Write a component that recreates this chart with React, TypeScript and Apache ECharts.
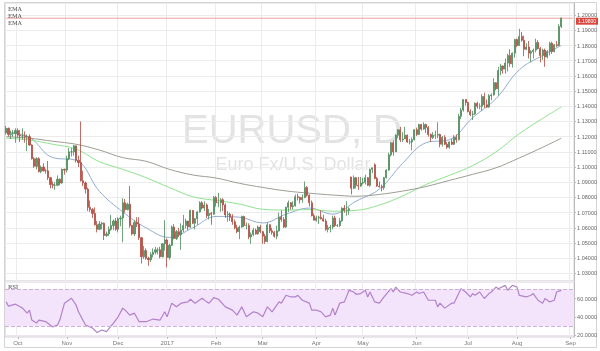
import React, { useEffect, useRef } from 'react';
import * as echarts from 'echarts';

// ---- categories (trading days) ----
const firstDay = [2016, 8, 26]; // 2016-09-26
const lastDay = [2017, 8, 4]; // 2017-09-04 (axis runs a little past the data)
const holidays = ['2016-12-26', '2017-01-02'];
const monthTickLabels = ['Oct', 'Nov', 'Dec', '2017', 'Feb', 'Mar', 'Apr', 'May', 'Jun', 'Jul', 'Aug', 'Sep'];

// ---- EUR/USD daily candles: [open, close, low, high] ----
const ohlcSep2016 = [
  [1.1225, 1.1255, 1.1215, 1.1270], [1.1255, 1.1215, 1.1200, 1.1260], [1.1215, 1.1220, 1.1185, 1.1240],
  [1.1220, 1.1220, 1.1200, 1.1245], [1.1220, 1.1240, 1.1160, 1.1255],
];
const ohlcOct2016 = [
  [1.1240, 1.1210, 1.1195, 1.1255], [1.1210, 1.1205, 1.1165, 1.1245], [1.1205, 1.1205, 1.1180, 1.1255],
  [1.1205, 1.1200, 1.1160, 1.1235], [1.1200, 1.1200, 1.1105, 1.1215], [1.1200, 1.1145, 1.1140, 1.1215],
  [1.1145, 1.1055, 1.1050, 1.1150], [1.1055, 1.1005, 1.0995, 1.1065], [1.1005, 1.1055, 1.0985, 1.1065],
  [1.1055, 1.0970, 1.0965, 1.1065], [1.0970, 1.1000, 1.0960, 1.1010], [1.1000, 1.0975, 1.0970, 1.1025],
  [1.0975, 1.0975, 1.0955, 1.0990], [1.0975, 1.0930, 1.0915, 1.1040], [1.0930, 1.0885, 1.0860, 1.0935],
  [1.0885, 1.0880, 1.0860, 1.0905], [1.0880, 1.0880, 1.0850, 1.0900], [1.0880, 1.0920, 1.0875, 1.0945],
  [1.0920, 1.0895, 1.0880, 1.0925], [1.0895, 1.0985, 1.0890, 1.0990], [1.0985, 1.0980, 1.0950, 1.0990],
];
const ohlcNov2016 = [
  [1.0980, 1.1055, 1.0965, 1.1075], [1.1055, 1.1100, 1.1045, 1.1125], [1.1100, 1.1100, 1.1070, 1.1125],
  [1.1100, 1.1140, 1.1075, 1.1145], [1.1140, 1.1045, 1.1030, 1.1080], [1.1045, 1.1030, 1.1000, 1.1075],
  [1.1030, 1.0910, 1.0905, 1.1300], [1.0910, 1.0895, 1.0875, 1.0975], [1.0895, 1.0855, 1.0825, 1.0905],
  [1.0855, 1.0735, 1.0710, 1.0865], [1.0735, 1.0720, 1.0705, 1.0780], [1.0720, 1.0695, 1.0665, 1.0730],
  [1.0695, 1.0620, 1.0615, 1.0735], [1.0620, 1.0590, 1.0570, 1.0645], [1.0590, 1.0625, 1.0585, 1.0645],
  [1.0625, 1.0630, 1.0590, 1.0640], [1.0630, 1.0550, 1.0520, 1.0635], [1.0550, 1.0560, 1.0540, 1.0575],
  [1.0560, 1.0590, 1.0545, 1.0610], [1.0590, 1.0615, 1.0580, 1.0685], [1.0615, 1.0645, 1.0585, 1.0655],
  [1.0645, 1.0590, 1.0580, 1.0665],
];
const ohlcDec2016 = [
  [1.0590, 1.0660, 1.0570, 1.0670], [1.0660, 1.0665, 1.0610, 1.0680], [1.0665, 1.0765, 1.0505, 1.0795],
  [1.0765, 1.0720, 1.0700, 1.0790], [1.0720, 1.0755, 1.0715, 1.0765], [1.0755, 1.0615, 1.0600, 1.0875],
  [1.0615, 1.0560, 1.0550, 1.0620], [1.0560, 1.0635, 1.0545, 1.0650], [1.0635, 1.0625, 1.0605, 1.0670],
  [1.0625, 1.0535, 1.0520, 1.0670], [1.0535, 1.0410, 1.0365, 1.0540], [1.0410, 1.0450, 1.0395, 1.0480],
  [1.0450, 1.0400, 1.0390, 1.0465], [1.0400, 1.0390, 1.0350, 1.0410], [1.0390, 1.0425, 1.0375, 1.0440],
  [1.0425, 1.0440, 1.0405, 1.0465], [1.0440, 1.0455, 1.0425, 1.0475], [1.0455, 1.0455, 1.0425, 1.0470],
  [1.0455, 1.0410, 1.0400, 1.0475], [1.0410, 1.0495, 1.0405, 1.0500], [1.0495, 1.0520, 1.0450, 1.0650],
];
const ohlcJan2017 = [
  [1.0520, 1.0405, 1.0340, 1.0530], [1.0405, 1.0485, 1.0390, 1.0495], [1.0485, 1.0605, 1.0480, 1.0615],
  [1.0605, 1.0530, 1.0525, 1.0625], [1.0530, 1.0575, 1.0520, 1.0585], [1.0575, 1.0555, 1.0540, 1.0600],
  [1.0555, 1.0585, 1.0455, 1.0630], [1.0585, 1.0615, 1.0570, 1.0685], [1.0615, 1.0645, 1.0595, 1.0660],
  [1.0645, 1.0605, 1.0585, 1.0625], [1.0605, 1.0715, 1.0600, 1.0720], [1.0715, 1.0630, 1.0625, 1.0715],
  [1.0630, 1.0660, 1.0590, 1.0665], [1.0660, 1.0705, 1.0620, 1.0710], [1.0705, 1.0765, 1.0700, 1.0775],
  [1.0765, 1.0730, 1.0720, 1.0775], [1.0730, 1.0750, 1.0710, 1.0775], [1.0750, 1.0680, 1.0665, 1.0760],
  [1.0680, 1.0695, 1.0655, 1.0725], [1.0695, 1.0690, 1.0620, 1.0705], [1.0690, 1.0800, 1.0685, 1.0810],
];
const ohlcFeb2017 = [
  [1.0800, 1.0765, 1.0740, 1.0810], [1.0765, 1.0765, 1.0735, 1.0830], [1.0765, 1.0785, 1.0705, 1.0795],
  [1.0785, 1.0750, 1.0710, 1.0795], [1.0750, 1.0685, 1.0665, 1.0760], [1.0685, 1.0690, 1.0640, 1.0710],
  [1.0690, 1.0670, 1.0645, 1.0700], [1.0670, 1.0640, 1.0620, 1.0690], [1.0640, 1.0600, 1.0590, 1.0655],
  [1.0600, 1.0575, 1.0565, 1.0620], [1.0575, 1.0605, 1.0525, 1.0615], [1.0605, 1.0675, 1.0600, 1.0680],
  [1.0675, 1.0615, 1.0605, 1.0680], [1.0615, 1.0615, 1.0590, 1.0635], [1.0615, 1.0540, 1.0525, 1.0630],
  [1.0540, 1.0555, 1.0495, 1.0570], [1.0555, 1.0585, 1.0545, 1.0600], [1.0585, 1.0560, 1.0555, 1.0595],
  [1.0560, 1.0605, 1.0555, 1.0615], [1.0605, 1.0575, 1.0565, 1.0620],
];
const ohlcMar2017 = [
  [1.0575, 1.0545, 1.0495, 1.0580], [1.0545, 1.0510, 1.0495, 1.0560], [1.0510, 1.0620, 1.0505, 1.0635],
  [1.0620, 1.0580, 1.0565, 1.0625], [1.0580, 1.0570, 1.0555, 1.0600], [1.0570, 1.0545, 1.0535, 1.0580],
  [1.0545, 1.0580, 1.0525, 1.0615], [1.0580, 1.0670, 1.0575, 1.0700], [1.0670, 1.0655, 1.0640, 1.0715],
  [1.0655, 1.0605, 1.0600, 1.0670], [1.0605, 1.0735, 1.0600, 1.0740], [1.0735, 1.0765, 1.0705, 1.0780],
  [1.0765, 1.0740, 1.0720, 1.0770], [1.0740, 1.0745, 1.0720, 1.0775], [1.0745, 1.0805, 1.0740, 1.0820],
  [1.0805, 1.0800, 1.0780, 1.0825], [1.0800, 1.0785, 1.0760, 1.0805], [1.0785, 1.0800, 1.0765, 1.0820],
  [1.0800, 1.0865, 1.0795, 1.0905], [1.0865, 1.0815, 1.0805, 1.0875], [1.0815, 1.0765, 1.0740, 1.0820],
  [1.0765, 1.0680, 1.0675, 1.0780], [1.0680, 1.0650, 1.0650, 1.0695],
];
const ohlcApr2017 = [
  [1.0650, 1.0665, 1.0640, 1.0680], [1.0665, 1.0670, 1.0625, 1.0680], [1.0670, 1.0660, 1.0655, 1.0715],
  [1.0660, 1.0645, 1.0640, 1.0685], [1.0645, 1.0590, 1.0580, 1.0660], [1.0590, 1.0600, 1.0570, 1.0620],
  [1.0600, 1.0605, 1.0570, 1.0620], [1.0605, 1.0665, 1.0590, 1.0680], [1.0665, 1.0615, 1.0605, 1.0680],
  [1.0615, 1.0615, 1.0605, 1.0625], [1.0615, 1.0645, 1.0605, 1.0665], [1.0645, 1.0730, 1.0640, 1.0735],
  [1.0730, 1.0715, 1.0700, 1.0750], [1.0715, 1.0715, 1.0680, 1.0775], [1.0715, 1.0725, 1.0685, 1.0735],
  [1.0935, 1.0860, 1.0820, 1.0935], [1.0860, 1.0930, 1.0855, 1.0945], [1.0930, 1.0880, 1.0860, 1.0935],
  [1.0880, 1.0875, 1.0850, 1.0935], [1.0875, 1.0895, 1.0870, 1.0935],
];
const ohlcMay2017 = [
  [1.0895, 1.0900, 1.0885, 1.0930], [1.0900, 1.0930, 1.0885, 1.0950], [1.0930, 1.0880, 1.0875, 1.0935],
  [1.0880, 1.0985, 1.0870, 1.0990], [1.0985, 1.0995, 1.0960, 1.0995], [1.1015, 1.0925, 1.0920, 1.1025],
  [1.0925, 1.0875, 1.0870, 1.0935], [1.0875, 1.0870, 1.0865, 1.0905], [1.0870, 1.0865, 1.0840, 1.0885],
  [1.0865, 1.0930, 1.0850, 1.0935], [1.0930, 1.0980, 1.0925, 1.0985], [1.0980, 1.1080, 1.0975, 1.1095],
  [1.1080, 1.1160, 1.1070, 1.1165], [1.1160, 1.1100, 1.1075, 1.1175], [1.1100, 1.1210, 1.1100, 1.1215],
  [1.1210, 1.1245, 1.1190, 1.1250], [1.1245, 1.1180, 1.1165, 1.1265], [1.1180, 1.1185, 1.1165, 1.1230],
  [1.1185, 1.1210, 1.1185, 1.1265], [1.1210, 1.1165, 1.1160, 1.1215], [1.1165, 1.1165, 1.1150, 1.1185],
  [1.1165, 1.1180, 1.1110, 1.1195], [1.1180, 1.1245, 1.1175, 1.1250],
];
const ohlcJun2017 = [
  [1.1245, 1.1215, 1.1205, 1.1260], [1.1215, 1.1280, 1.1210, 1.1285], [1.1280, 1.1250, 1.1240, 1.1285],
  [1.1250, 1.1280, 1.1245, 1.1295], [1.1280, 1.1260, 1.1225, 1.1285], [1.1260, 1.1215, 1.1200, 1.1270],
  [1.1215, 1.1195, 1.1165, 1.1220], [1.1195, 1.1210, 1.1185, 1.1230], [1.1210, 1.1210, 1.1185, 1.1240],
  [1.1210, 1.1215, 1.1190, 1.1295], [1.1215, 1.1150, 1.1130, 1.1220], [1.1150, 1.1195, 1.1135, 1.1205],
  [1.1195, 1.1150, 1.1145, 1.1210], [1.1150, 1.1130, 1.1120, 1.1165], [1.1130, 1.1165, 1.1120, 1.1170],
  [1.1165, 1.1150, 1.1145, 1.1185], [1.1150, 1.1195, 1.1145, 1.1210], [1.1195, 1.1180, 1.1160, 1.1215],
  [1.1180, 1.1335, 1.1175, 1.1350], [1.1335, 1.1375, 1.1315, 1.1390], [1.1375, 1.1445, 1.1365, 1.1445],
  [1.1445, 1.1425, 1.1405, 1.1445],
];
const ohlcJul2017 = [
  [1.1425, 1.1365, 1.1360, 1.1430], [1.1365, 1.1345, 1.1335, 1.1380], [1.1345, 1.1350, 1.1310, 1.1370],
  [1.1350, 1.1420, 1.1345, 1.1425], [1.1420, 1.1400, 1.1385, 1.1430], [1.1400, 1.1400, 1.1380, 1.1420],
  [1.1400, 1.1465, 1.1370, 1.1480], [1.1465, 1.1410, 1.1390, 1.1490], [1.1410, 1.1395, 1.1390, 1.1445],
  [1.1395, 1.1470, 1.1390, 1.1480], [1.1470, 1.1475, 1.1440, 1.1485], [1.1475, 1.1555, 1.1470, 1.1585],
  [1.1555, 1.1515, 1.1505, 1.1560], [1.1515, 1.1635, 1.1470, 1.1660], [1.1635, 1.1665, 1.1605, 1.1680],
  [1.1665, 1.1645, 1.1615, 1.1670], [1.1645, 1.1685, 1.1615, 1.1715], [1.1685, 1.1735, 1.1630, 1.1745],
  [1.1735, 1.1680, 1.1660, 1.1775], [1.1680, 1.1750, 1.1655, 1.1755], [1.1750, 1.1840, 1.1720, 1.1845],
];
const ohlcAug2017 = [
  [1.1840, 1.1800, 1.1790, 1.1845], [1.1800, 1.1860, 1.1800, 1.1910], [1.1860, 1.1835, 1.1825, 1.1890],
  [1.1835, 1.1775, 1.1730, 1.1865], [1.1775, 1.1790, 1.1770, 1.1815], [1.1790, 1.1750, 1.1715, 1.1830],
  [1.1750, 1.1760, 1.1690, 1.1770], [1.1760, 1.1770, 1.1715, 1.1780], [1.1770, 1.1820, 1.1755, 1.1845],
  [1.1820, 1.1780, 1.1775, 1.1835], [1.1780, 1.1735, 1.1690, 1.1790], [1.1735, 1.1770, 1.1705, 1.1780],
  [1.1770, 1.1725, 1.1660, 1.1780], [1.1725, 1.1760, 1.1715, 1.1770], [1.1760, 1.1815, 1.1735, 1.1825],
  [1.1815, 1.1760, 1.1745, 1.1825], [1.1760, 1.1805, 1.1755, 1.1810], [1.1805, 1.1800, 1.1790, 1.1830],
  [1.1800, 1.1925, 1.1795, 1.1940], [1.1925, 1.1980, 1.1915, 1.1985],
];

// ---- moving averages (trading-day index, value) ----
const emaIdx = [0, 10, 20, 30, 40, 50, 60, 70, 80, 90, 100, 110, 120, 130, 140, 150, 160, 170, 180, 190, 200, 210, 220, 230, 238];
const emaFast = [1.1232, 1.1195, 1.1062, 1.1045, 1.0840, 1.0705, 1.0600, 1.0537, 1.0600, 1.0675, 1.0670, 1.0632,
  1.0690, 1.0730, 1.0690, 1.0775, 1.0855, 1.1025, 1.1160, 1.1180, 1.1325, 1.1450, 1.1640, 1.1735, 1.1800];
const emaMid = [1.1190, 1.1178, 1.1150, 1.1118, 1.1035, 1.0985, 1.0930, 1.0865, 1.0805, 1.0780, 1.0757, 1.0722,
  1.0717, 1.0720, 1.0710, 1.0715, 1.0750, 1.0810, 1.0885, 1.0945, 1.1010, 1.1100, 1.1220, 1.1320, 1.1395];
const emaSlow = [1.1200, 1.1190, 1.1170, 1.1150, 1.1112, 1.1062, 1.1038, 1.0985, 1.0948, 1.0928, 1.0893, 1.0866,
  1.0843, 1.0828, 1.0816, 1.0808, 1.0820, 1.0842, 1.0872, 1.0912, 1.0952, 1.0995, 1.1060, 1.1130, 1.1190];

// ---- RSI (trading-day index, value) ----
const rsiIdx = [0, 1, 4, 6, 7, 9, 10, 11, 13, 14, 17, 20, 22, 23, 25, 28, 30, 31, 34, 37, 39, 41, 43, 46, 48, 50,
  51, 53, 55, 57, 60, 63, 66, 68, 69, 71, 73, 75, 78, 79, 81, 84, 86, 87, 89, 91, 94, 97, 99, 101, 103, 106, 108,
  110, 112, 114, 117, 118, 120, 122, 124, 125, 127, 130, 131, 133, 135, 137, 139, 140, 141, 143, 145, 147, 149,
  150, 152, 154, 155, 156, 158, 160, 162, 165, 166, 167, 169, 172, 174, 176, 177, 179, 181, 184, 185, 186, 188,
  191, 192, 194, 195, 197, 199, 200, 201, 203, 205, 207, 208, 210, 211, 214, 215, 217, 219, 220, 223, 225, 226,
  228, 230, 231, 233, 235, 236, 238];
const rsiVal = [56.3, 51.6, 53.8, 50.9, 49.5, 44.0, 47.3, 36.5, 33.2, 36.5, 34.7, 29.0, 31.0, 36.5, 54.9, 60.3,
  52.7, 45.5, 31.1, 27.8, 22.8, 25.7, 23.9, 33.2, 40.0, 49.5, 47.3, 41.9, 44.0, 34.7, 34.7, 37.6, 36.5, 45.5,
  40.0, 54.9, 50.9, 54.9, 56.3, 59.2, 54.9, 60.3, 56.3, 54.9, 61.0, 59.2, 50.9, 47.3, 41.9, 50.9, 40.0, 45.5, 44.0,
  40.0, 50.9, 45.5, 56.3, 54.9, 63.5, 61.7, 61.7, 63.5, 58.1, 54.9, 47.3, 47.3, 45.5, 40.0, 41.9, 49.5, 41.9, 54.9,
  56.3, 68.9, 67.1, 64.6, 65.4, 68.9, 61.7, 67.1, 56.3, 54.9, 61.7, 70.7, 67.1, 72.5, 67.1, 65.4, 63.5, 67.1, 65.4,
  67.1, 58.1, 58.1, 50.9, 54.9, 49.5, 54.9, 54.9, 65.4, 70.7, 67.1, 61.7, 65.4, 63.5, 67.1, 60.0, 65.4, 67.1, 72.5,
  70.7, 74.3, 68.9, 74.3, 72.5, 63.5, 61.7, 63.5, 65.4, 58.1, 54.9, 60.0, 56.3, 58.1, 67.1, 68.9];

function buildDates(): string[] {
  const out: string[] = [];
  const d = new Date(Date.UTC(firstDay[0], firstDay[1], firstDay[2]));
  const end = Date.UTC(lastDay[0], lastDay[1], lastDay[2]);
  while (d.getTime() <= end) {
    const wd = d.getUTCDay();
    const s = d.toISOString().slice(0, 10);
    if (wd !== 0 && wd !== 6 && !holidays.includes(s)) out.push(s);
    d.setUTCDate(d.getUTCDate() + 1);
  }
  return out;
}

export default function App() {
  const ref = useRef<HTMLDivElement>(null);
  useEffect(() => {
    if (!ref.current) return;
    const chart = echarts.init(ref.current, undefined, { renderer: 'svg' });
    const dates = buildDates();
    const labelAt: Record<number, string> = {};
    let k = 0;
    for (let i = 1; i < dates.length; i++) {
      if (dates[i].slice(5, 7) !== dates[i - 1].slice(5, 7)) {
        labelAt[i] = monthTickLabels[k++] ?? '';
      }
    }
    const isMonthStart = (idx: number) => labelAt[idx] !== undefined;
    const ohlc = [
      ...ohlcSep2016, ...ohlcOct2016, ...ohlcNov2016, ...ohlcDec2016, ...ohlcJan2017, ...ohlcFeb2017,
      ...ohlcMar2017, ...ohlcApr2017, ...ohlcMay2017, ...ohlcJun2017, ...ohlcJul2017, ...ohlcAug2017,
    ];
    const lastClose = ohlc[ohlc.length - 1][1];
    const font = 'Liberation Sans, Arial, sans-serif';
    const gridLine = '#ececec';

    const xBase = (gridIndex: number, showLabels: boolean) => ({
      type: 'category',
      gridIndex,
      data: dates,
      boundaryGap: true,
      axisLine: { show: false },
      axisTick: { show: showLabels, interval: (i: number) => isMonthStart(i), alignWithLabel: true, length: 2, lineStyle: { color: '#bbb' } },
      axisLabel: {
        show: showLabels,
        interval: (i: number) => isMonthStart(i),
        formatter: (_v: string, i: number) => labelAt[i] ?? '',
        fontSize: 6,
        color: '#777',
        margin: 3,
      },
      splitLine: { show: true, interval: (i: number) => isMonthStart(i), lineStyle: { color: gridLine, width: 1 } },
    });

    const emaSeries = (name: string, vals: number[], color: string) => ({
      name,
      type: 'line',
      xAxisIndex: 0,
      yAxisIndex: 0,
      data: emaIdx.map((i, j) => [i, vals[j]]),
      showSymbol: false,
      smooth: 0.4,
      lineStyle: { color, width: 1 },
      z: 3,
      silent: true,
    });

    chart.setOption({
      animation: false,
      textStyle: { fontFamily: font },
      grid: [
        { left: 5, right: 23, top: 3, height: 278, show: true, borderColor: '#c8c8c8', borderWidth: 1 },
        { left: 5, right: 23, top: 282, height: 55, show: true, borderColor: '#c8c8c8', borderWidth: 1 },
      ],
      xAxis: [xBase(0, false), xBase(1, true)],
      yAxis: [
        {
          type: 'value',
          gridIndex: 0,
          position: 'right',
          min: 1.025,
          max: 1.208,
          splitNumber: 18,
          minInterval: 0.01,
          maxInterval: 0.01,
          axisLine: { show: true, lineStyle: { color: '#bbb' } },
          axisTick: { show: true, length: 2, lineStyle: { color: '#bbb' } },
          axisLabel: {
            formatter: (v: number) => v.toFixed(5),
            fontSize: 5.5,
            lineHeight: 5,
            color: '#666',
            margin: 3,
            showMinLabel: false,
            showMaxLabel: false,
          },
          splitLine: { show: true, lineStyle: { color: gridLine } },
        },
        {
          type: 'value',
          gridIndex: 1,
          position: 'right',
          min: 18,
          max: 78,
          splitNumber: 3,
          minInterval: 20,
          maxInterval: 20,
          axisLine: { show: true, lineStyle: { color: '#bbb' } },
          axisTick: { show: true, length: 2, lineStyle: { color: '#bbb' } },
          axisLabel: {
            formatter: (v: number) => v.toFixed(4),
            fontSize: 5.5,
            color: '#666',
            margin: 3,
            showMinLabel: false,
            showMaxLabel: false,
          },
          splitLine: { show: true, lineStyle: { color: '#eee4f2' } },
        },
      ],
      graphic: [
        { type: 'rect', silent: true, z: 0, shape: { x: 4.5, y: 2.5, width: 592, height: 345 }, style: { fill: 'none', stroke: '#d4d4d4', lineWidth: 1 } },
        { type: 'text', silent: true, z: 0, x: 292, y: 129, style: { text: 'EURUSD, D', fontSize: 40, fontFamily: font, fill: '#e3e3e3', align: 'center', verticalAlign: 'middle' } },
        { type: 'text', silent: true, z: 0, x: 293, y: 164, style: { text: 'Euro Fx/U.S. Dollar', fontSize: 18, fontFamily: font, fill: '#e3e3e3', align: 'center', verticalAlign: 'middle' } },
        { type: 'text', silent: true, z: 10, x: 8, y: 9, style: { text: 'EMA', fontSize: 5.5, fontFamily: 'DejaVu Serif, serif', fill: '#444', verticalAlign: 'middle' } },
        { type: 'text', silent: true, z: 10, x: 8, y: 16, style: { text: 'EMA', fontSize: 5.5, fontFamily: 'DejaVu Serif, serif', fill: '#444', verticalAlign: 'middle' } },
        { type: 'text', silent: true, z: 10, x: 8, y: 23, style: { text: 'EMA', fontSize: 5.5, fontFamily: 'DejaVu Serif, serif', fill: '#444', verticalAlign: 'middle' } },
        { type: 'text', silent: true, z: 10, x: 8, y: 287, style: { text: 'RSI', fontSize: 5.5, fontFamily: 'DejaVu Serif, serif', fill: '#444', verticalAlign: 'middle' } },
      ],
      series: [
        {
          name: 'EURUSD',
          type: 'candlestick',
          xAxisIndex: 0,
          yAxisIndex: 0,
          data: ohlc,
          barWidth: '70%',
          itemStyle: {
            color: '#5c9a6b',
            color0: '#c4544a',
            borderColor: '#4d8a5c',
            borderColor0: '#b04a41',
            borderWidth: 0.8,
          },
          z: 4,
        },
        emaSeries('EMA fast', emaFast, '#93acd0'),
        emaSeries('EMA mid', emaMid, '#8fe28f'),
        emaSeries('EMA slow', emaSlow, '#9d9d94'),
        {
          name: 'Last price',
          type: 'line',
          xAxisIndex: 0,
          yAxisIndex: 0,
          data: [[0, lastClose], [dates.length - 1, lastClose]],
          showSymbol: false,
          silent: true,
          z: 2,
          lineStyle: { color: '#f0a29c', width: 1 },
          endLabel: {
            show: true,
            formatter: () => lastClose.toFixed(5),
            backgroundColor: '#d8483e',
            color: '#fff',
            fontSize: 5,
            lineHeight: 6,
            padding: [0.5, 2],
            distance: 3,
            offset: [0, 3],
          },
        },
        {
          name: 'RSI',
          type: 'line',
          xAxisIndex: 1,
          yAxisIndex: 1,
          data: rsiIdx.map((i, j) => [i, rsiVal[j]]),
          showSymbol: false,
          lineStyle: { color: '#b182ca', width: 1.2 },
          z: 3,
          silent: true,
          markArea: {
            silent: true,
            itemStyle: { color: '#f3e4fb' },
            data: [[{ yAxis: 30 }, { yAxis: 70 }]],
          },
          markLine: {
            symbol: 'none',
            silent: true,
            label: { show: false },
            lineStyle: { color: '#cdb0da', type: 'dashed', width: 1 },
            data: [{ yAxis: 30 }, { yAxis: 70 }],
          },
        },
      ],
    });
    return () => chart.dispose();
  }, []);
  return <div ref={ref} style={{ position: 'fixed', left: 0, top: 0, width: 600, height: 351 }} />;
}
